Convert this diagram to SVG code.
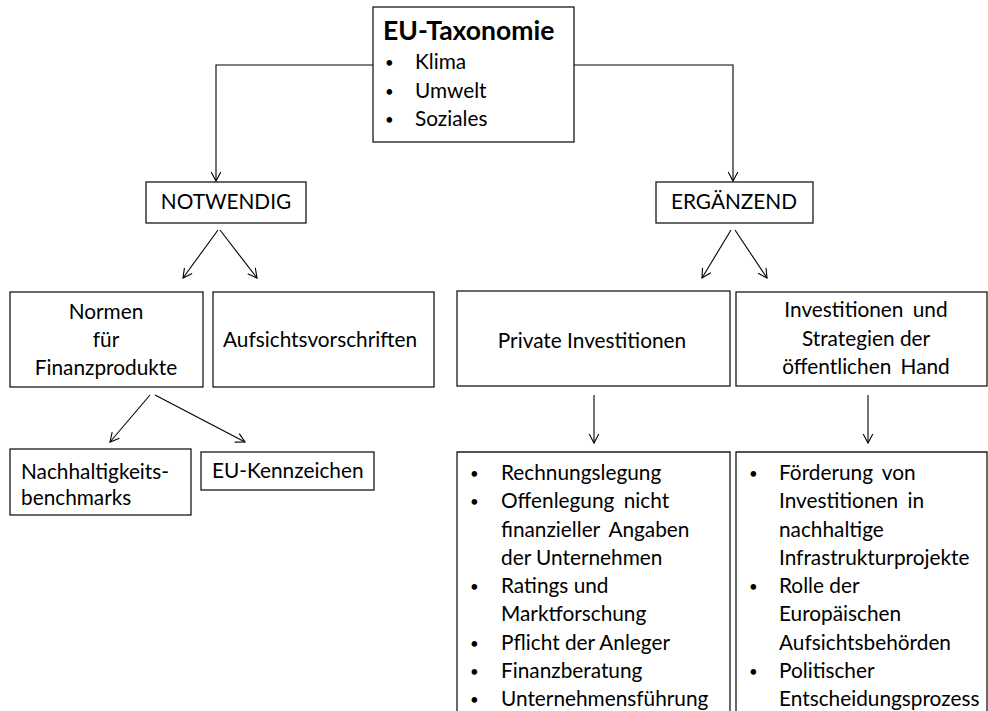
<svg xmlns="http://www.w3.org/2000/svg" width="988" height="711" viewBox="0 0 988 711">
<defs>
<style>
.box{fill:#fff;stroke:#1a1a1a;stroke-width:1.3}
.t{font-family:Lato,"Noto Sans",sans-serif;font-size:20.8px;fill:#000}
.c{text-anchor:middle}
.b{font-weight:bold;font-size:26.5px}
.d{font-family:Lato,"Noto Sans",sans-serif;font-size:15px;fill:#000}
.ws{word-spacing:4px}
.ln{fill:none;stroke:#000;stroke-width:1.1;marker-end:url(#ah)}
</style>
<marker id="ah" markerUnits="userSpaceOnUse" markerWidth="14" markerHeight="14" viewBox="-12 -7 14 14" refX="0" refY="0" orient="auto">
<path d="M-9,-4.8 L0,0 L-9,4.8" fill="none" stroke="#000" stroke-width="1.1"/>
</marker>
</defs>
<rect width="988" height="711" fill="#fff"/>

<g id="connectors">
<polyline class="ln" points="373,65 216,65 216,181"/>
<polyline class="ln" points="574,65 733,65 733,181"/>
<line class="ln" x1="218" y1="230" x2="183" y2="278"/>
<line class="ln" x1="220" y1="230" x2="257" y2="278"/>
<line class="ln" x1="731" y1="230" x2="702" y2="278"/>
<line class="ln" x1="735" y1="230" x2="767" y2="278"/>
<line class="ln" x1="150" y1="395" x2="110" y2="442"/>
<line class="ln" x1="155" y1="395" x2="245" y2="442"/>
<line class="ln" x1="594" y1="395" x2="594" y2="443"/>
<line class="ln" x1="868" y1="395" x2="868" y2="443"/>
</g>

<g id="eu-taxonomie">
<rect class="box" x="373" y="7" width="201" height="135"/>
<text class="t b" x="383" y="40">EU-Taxonomie</text>
<text class="d" x="385" y="68">•</text><text class="t" x="415" y="69">Klima</text>
<text class="d" x="385" y="97">•</text><text class="t" x="415" y="98">Umwelt</text>
<text class="d" x="385" y="125">•</text><text class="t" x="415" y="126">Soziales</text>
</g>

<g id="notwendig">
<rect class="box" x="146" y="182" width="160" height="41"/>
<text class="t c" x="226" y="209">NOTWENDIG</text>
</g>

<g id="ergaenzend">
<rect class="box" x="656" y="182" width="157" height="41"/>
<text class="t c" x="734" y="209">ERGÄNZEND</text>
</g>

<g id="normen">
<rect class="box" x="10" y="292" width="193" height="95"/>
<text class="t c" x="106" y="319">Normen</text>
<text class="t c" x="106" y="347">für</text>
<text class="t c" x="106" y="375">Finanzprodukte</text>
</g>

<g id="aufsicht">
<rect class="box" x="213" y="292" width="221" height="95"/>
<text class="t" x="223" y="347">Aufsichtsvorschriften</text>
</g>

<g id="private">
<rect class="box" x="457" y="291" width="273" height="95"/>
<text class="t c" x="592" y="348">Private Investitionen</text>
</g>

<g id="oeffentlich">
<rect class="box" x="736" y="292" width="251" height="94"/>
<text class="t c ws" x="866" y="317">Investitionen und</text>
<text class="t c" x="866" y="346">Strategien der</text>
<text class="t c ws" x="866" y="374">öffentlichen Hand</text>
</g>

<g id="nachhaltigkeit">
<rect class="box" x="10" y="449" width="181" height="66"/>
<text class="t" x="21" y="479">Nachhaltigkeits-</text>
<text class="t" x="21" y="505">benchmarks</text>
</g>

<g id="kennzeichen">
<rect class="box" x="201" y="452" width="173" height="38"/>
<text class="t" x="212" y="478">EU-Kennzeichen</text>
</g>

<g id="private-liste">
<path class="box" d="M457,712 L457,452 L730,452 L730,712"/>
<text class="d" x="470" y="479">•</text><text class="t" x="501" y="480">Rechnungslegung</text>
<text class="d" x="470" y="507">•</text><text class="t ws" x="501" y="508">Offenlegung nicht</text>
<text class="t ws" x="501" y="537">finanzieller Angaben</text>
<text class="t" x="501" y="565">der Unternehmen</text>
<text class="d" x="470" y="592">•</text><text class="t" x="501" y="593">Ratings und</text>
<text class="t" x="501" y="621">Marktforschung</text>
<text class="d" x="470" y="649">•</text><text class="t" x="501" y="650">Pflicht der Anleger</text>
<text class="d" x="470" y="677">•</text><text class="t" x="501" y="678">Finanzberatung</text>
<text class="d" x="470" y="705">•</text><text class="t" x="501" y="706">Unternehmensführung</text>
</g>

<g id="oeffentlich-liste">
<path class="box" d="M736,712 L736,452 L987,452 L987,712"/>
<text class="d" x="749" y="479">•</text><text class="t ws" x="779" y="480">Förderung von</text>
<text class="t ws" x="779" y="508">Investitionen in</text>
<text class="t" x="779" y="537">nachhaltige</text>
<text class="t" x="779" y="565">Infrastrukturprojekte</text>
<text class="d" x="749" y="592">•</text><text class="t" x="779" y="593">Rolle der</text>
<text class="t" x="779" y="621">Europäischen</text>
<text class="t" x="779" y="650">Aufsichtsbehörden</text>
<text class="d" x="749" y="677">•</text><text class="t" x="779" y="678">Politischer</text>
<text class="t" x="779" y="706">Entscheidungsprozess</text>
</g>
</svg>
